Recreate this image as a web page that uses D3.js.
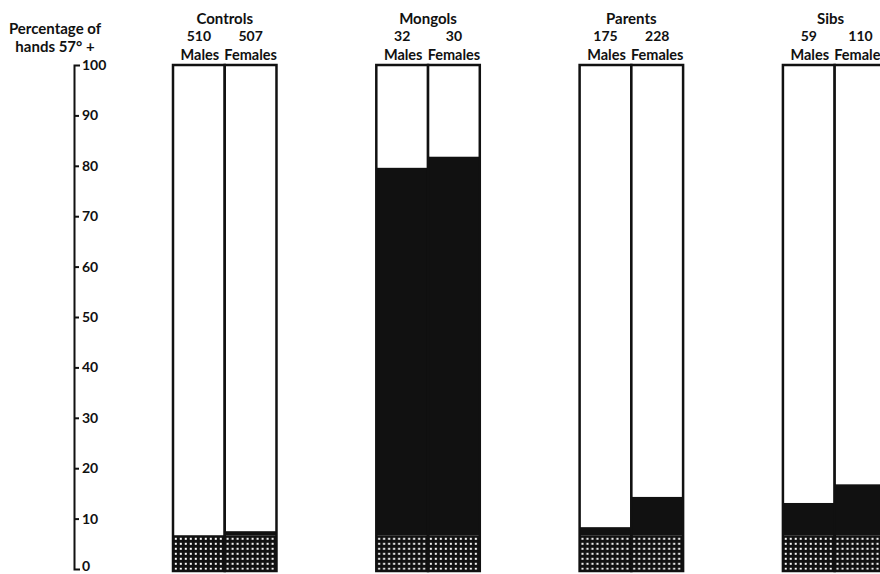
<!DOCTYPE html>
<html>
<head>
<meta charset="utf-8">
<script src="https://cdn.jsdelivr.net/npm/d3@7"></script>
<style>
  html, body { margin: 0; padding: 0; background: #fff; }
  svg { display: block; }
  text { font-family: Lato, "Open Sans", sans-serif; font-weight: 700; fill: #111; }
</style>
</head>
<body>
<svg id="chart" width="880" height="574"></svg>
<script>
// ---- data ----
const groups = ["Controls", "Mongols", "Parents", "Sibs"];
const sexes = ["Males", "Females"];
const maleCounts = [510, 32, 175, 59];
const femaleCounts = [507, 30, 228, 110];
const malePct = [6.7, 79.6, 8.3, 13.1];
const femalePct = [7.5, 81.8, 14.3, 16.8];
const controlBase = 6.7;            // hatched band = control level
const yTicks = [0, 10, 20, 30, 40, 50, 60, 70, 80, 90, 100];
const yTitle = ["Percentage of", "hands 57° +"];

// ---- layout ----
const svg = d3.select("#chart");

const y = d3.scaleLinear().domain([0, 100]).range([569, 65]);
const x = d3.scaleBand().domain(groups).range([173, 886.4]).paddingInner(0.491).paddingOuter(0);
const xs = d3.scaleBand().domain(sexes).range([0, x.bandwidth()]);

// hatch pattern
const defs = svg.append("defs");
const pat = defs.append("pattern")
  .attr("id", "hatch").attr("patternUnits", "userSpaceOnUse")
  .attr("width", 5).attr("height", 5).attr("x", 0).attr("y", 1);
pat.append("rect").attr("width", 5).attr("height", 5).attr("fill", "#111");
pat.append("rect").attr("x", 1.8).attr("y", 1.8).attr("width", 2).attr("height", 2).attr("fill", "#fff");

// rows
const rows = [];
groups.forEach((g, i) => {
  rows.push({ group: g, sex: "Males", n: maleCounts[i], v: malePct[i] });
  rows.push({ group: g, sex: "Females", n: femaleCounts[i], v: femalePct[i] });
});

const gBars = svg.append("g");
const bar = gBars.selectAll("g.bar").data(rows).join("g")
  .attr("class", "bar")
  .attr("transform", d => `translate(${x(d.group) + xs(d.sex)},0)`);

bar.append("rect")
  .attr("x", 0).attr("width", xs.bandwidth())
  .attr("y", y(100)).attr("height", d => y(d.v) - y(100))
  .attr("fill", "#fff");
bar.append("rect")
  .attr("x", 0).attr("width", xs.bandwidth())
  .attr("y", d => y(d.v)).attr("height", d => Math.max(0, y(controlBase) - y(d.v)))
  .attr("fill", "#111");
bar.append("rect")
  .attr("x", 0).attr("width", xs.bandwidth())
  .attr("y", y(controlBase)).attr("height", y(0) - y(controlBase) + 2)
  .attr("fill", "url(#hatch)");
bar.append("rect")
  .attr("x", 0).attr("width", xs.bandwidth())
  .attr("y", y(100)).attr("height", y(0) - y(100) + 2)
  .attr("fill", "none").attr("stroke", "#111").attr("stroke-width", 2.5);

// headers
const gHead = svg.append("g");
gHead.selectAll("text.gname").data(groups).join("text")
  .attr("class", "gname").attr("font-size", 15)
  .attr("x", d => x(d) + x.bandwidth() / 2 - (d === "Sibs" ? 4 : 0)).attr("y", 23.5)
  .attr("text-anchor", "middle").text(d => d);
gHead.selectAll("text.cnt").data(rows).join("text")
  .attr("class", "cnt").attr("font-size", 14)
  .attr("x", d => x(d.group) + xs(d.sex) + xs.bandwidth() / 2).attr("y", 41)
  .attr("text-anchor", "middle").text(d => d.n);
gHead.selectAll("text.sex").data(rows).join("text")
  .attr("class", "sex").attr("font-size", 14.5)
  .attr("x", d => x(d.group) + xs(d.sex) + xs.bandwidth() / 2 + (d.sex === "Males" ? 1 : 0)).attr("y", 59.5)
  .attr("text-anchor", "middle").text(d => d.sex);

// y axis
const axis = d3.axisRight(y).tickValues(yTicks).tickSize(5).tickSizeOuter(6).tickPadding(3)
  .tickFormat(d3.format("d"));
const gAx = svg.append("g").attr("transform", "translate(74,0)").call(axis);
gAx.select(".domain").attr("stroke", "#111").attr("stroke-width", 2);
gAx.selectAll(".tick line").attr("stroke", "#111").attr("stroke-width", 2);
gAx.selectAll(".tick text").attr("font-size", 14).attr("font-family", "Lato, sans-serif")
  .attr("font-weight", 700).attr("fill", "#111");
gAx.selectAll(".tick").filter(d => d === 0 || d === 100).select("line").remove();
gAx.selectAll(".tick").filter(d => d === 0).select("text").attr("dy", "0.1em");

// y title
svg.append("g").attr("font-size", 15).selectAll("text").data(yTitle).join("text")
  .attr("x", 55).attr("y", (d, i) => 34 + i * 18)
  .attr("text-anchor", "middle").text(d => d);
</script>
</body>
</html>
